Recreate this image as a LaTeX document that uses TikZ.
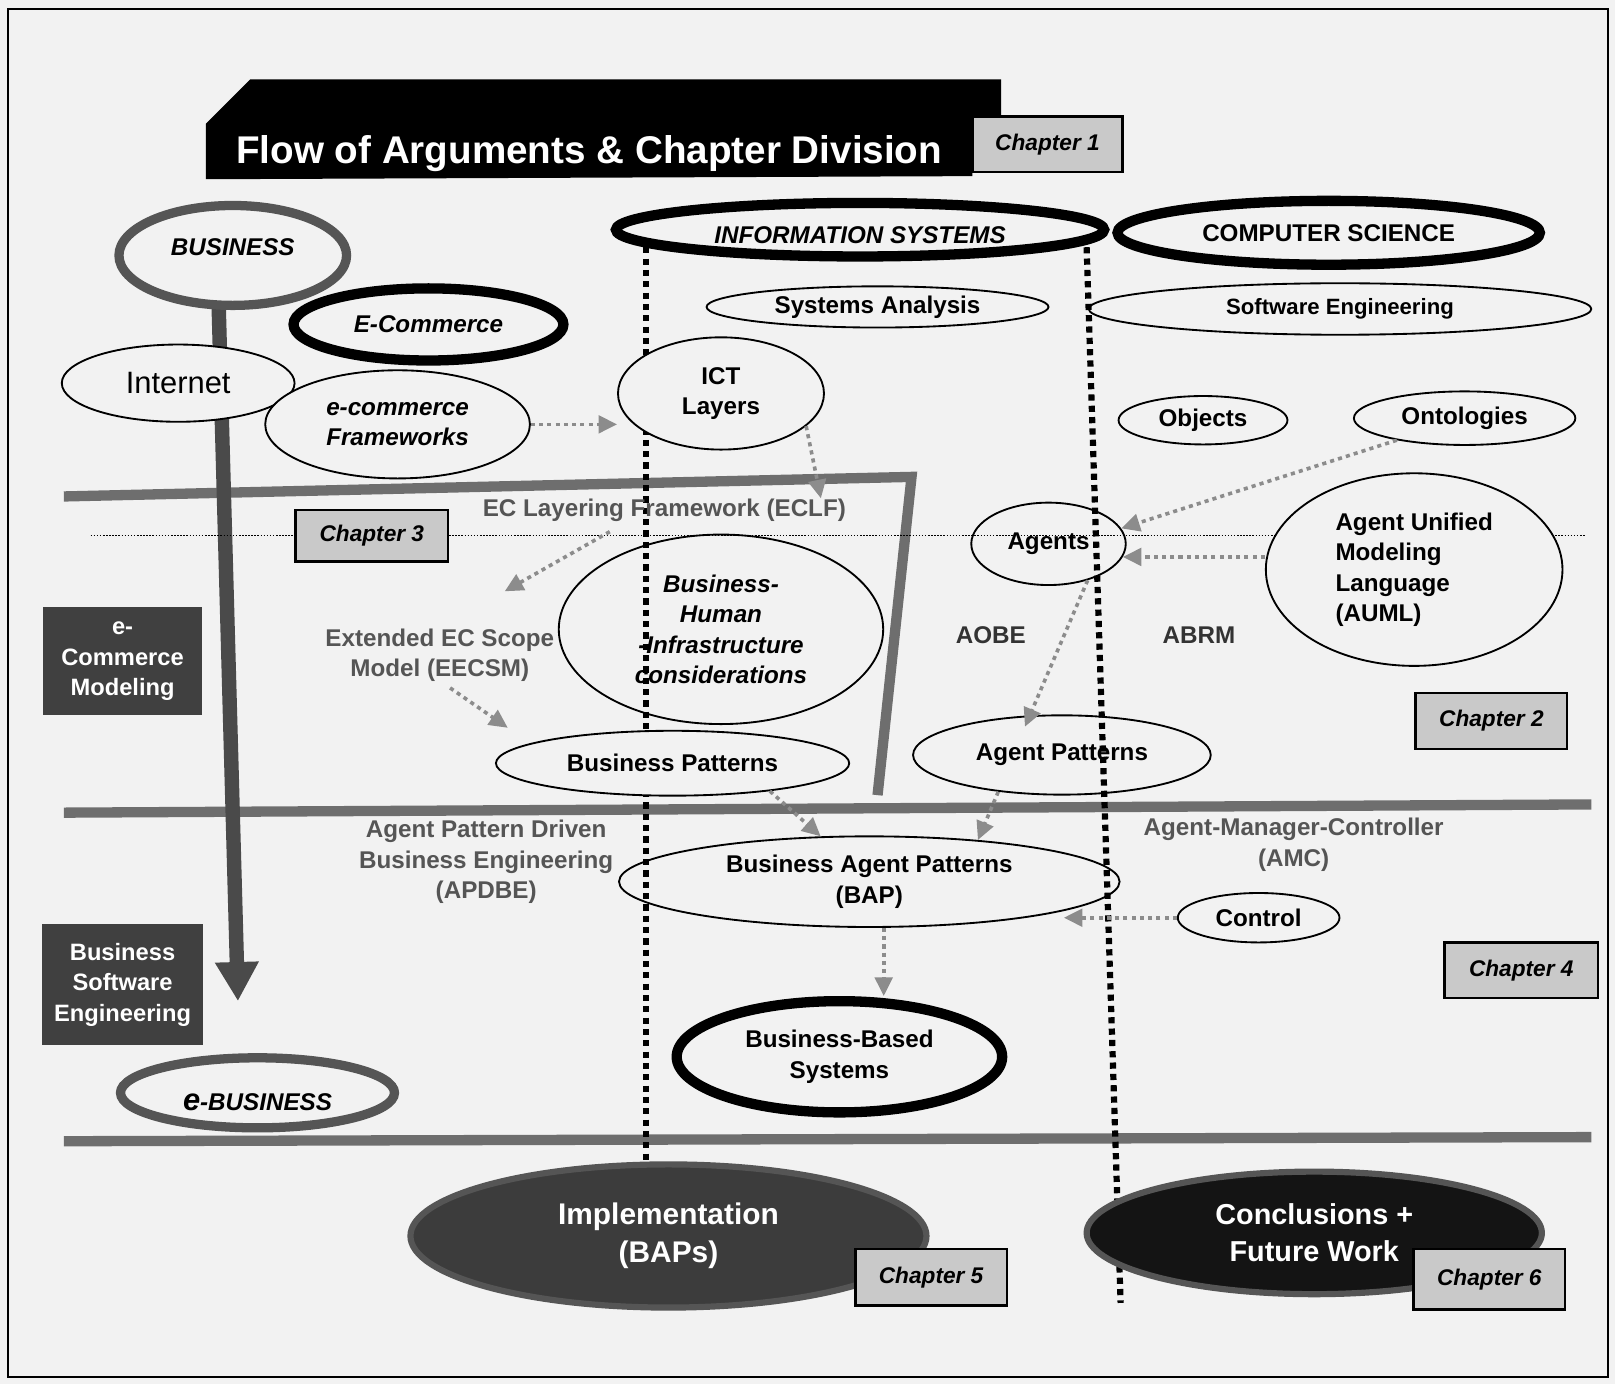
\documentclass[tikz,border=0pt]{standalone}
\usepackage{fontspec}
\setmainfont{Liberation Sans}
\usetikzlibrary{shapes.geometric,arrows.meta}
\definecolor{bgc}{HTML}{F2F2F2}
\definecolor{chapgray}{HTML}{C9C9C9}
\definecolor{boxgray}{HTML}{404040}
\definecolor{ringgray}{HTML}{555555}
\definecolor{bargray}{HTML}{6E6E6E}
\definecolor{conngray}{HTML}{8C8C8C}
\definecolor{labelgray}{HTML}{555555}
\definecolor{arrgray}{HTML}{4A4A4A}
\definecolor{implfill}{HTML}{3C3C3C}
\definecolor{conclfill}{HTML}{141414}
\newcommand\shiftv[2]{\raisebox{#1}[0pt][0pt]{#2}}
\begin{document}
\begin{tikzpicture}[x=1pt,y=-1pt,
 base/.style={inner sep=0pt, align=center, font=\bfseries\fontsize{23.5}{29.5}\selectfont},
 ell/.style 2 args={base, ellipse, draw=black, fill=bgc, line width=1.8pt, minimum width=#1pt, minimum height=#2pt},
 thickring/.style={line width=10pt},
 grayring/.style={line width=9pt, draw=ringgray},
 itf/.style={font=\bfseries\itshape\fontsize{23.5}{29.5}\selectfont},
 chapbox/.style 2 args={rectangle, draw=black, line width=2.5pt, fill=chapgray, minimum width=#1pt, minimum height=#2pt, inner sep=0pt, font=\bfseries\itshape\fontsize{22}{26}\selectfont},
 darkbox/.style 2 args={rectangle, fill=boxgray, text=white, minimum width=#1pt, minimum height=#2pt, inner sep=0pt, align=center, font=\bfseries\fontsize{23}{29.5}\selectfont},
 glabel/.style={base, text=labelgray},
 conn/.style={draw=conngray, line width=3.5pt, dash pattern=on 4pt off 4pt, -{Triangle[length=18pt,width=17pt,fill=conngray]}},
 vdots/.style={draw=black, line width=6pt, dash pattern=on 6pt off 5pt},
 hdots/.style={draw=black, line width=1.2pt, dash pattern=on 1.5pt off 1.5pt},
 bar/.style={draw=bargray, line width=10pt},
 bigarr/.style={draw=arrgray, line width=14pt, -{Triangle[length=38pt,width=40pt,fill=arrgray]}}
]
\useasboundingbox (0,0) rectangle (1568,1344);
\fill[bgc] (0,0) rectangle (1568,1344);
\draw[line width=1.6pt] (8,9) rectangle (1561,1337);

% title
\fill[black] (200,120) -- (243,77) -- (972,77) -- (972,118) -- (944,118) -- (944,171) -- (200,174) -- cycle;
\node[base, text=white, font=\bfseries\fontsize{37.5}{40}\selectfont] (title) at (572,149) {Flow of Arguments \& Chapter Division};
\node[chapbox={146}{54}] (ch1) at (1017,140) {Chapter 1};

% bars
\draw[bar] (62,482) -- (885,463) -- (852,772);
\draw[bar] (62,789) -- (1545,781);
\draw[bar] (62,1108) -- (1545,1104);

% big arrow
\coordinate (bigtip) at (231,972);
\coordinate (bigtop) at (211,250);
\draw[bigarr] (bigtop) -- (bigtip);

% ellipses (lower layer)
\node[ell={221}{97}, grayring, itf] (business) at (226,248) {\shiftv{0pt}{BUSINESS}};
\node[ell={262}{70}, thickring, itf] (ecommerce) at (416,315) {E-Commerce};
\node[ell={226}{75}, font=\fontsize{30}{34}\selectfont] (internet) at (173,372) {Internet};
\node[ell={257}{105}, itf] (ecfw) at (386,412) {e-commerce\\Frameworks};
\node[ell={474}{52}, thickring, itf] (infosys) at (835,223) {\shiftv{-13pt}{INFORMATION SYSTEMS}};
\node[ell={410}{62}, thickring] (compsci) at (1290,226) {COMPUTER SCIENCE};
\node[ell={332}{40}] (sysanal) at (852,298) {Systems Analysis};
\node[ell={488}{50}, font=\bfseries\fontsize{21.5}{26}\selectfont] (softeng) at (1301,300) {Software Engineering};
\node[ell={164}{47}] (objects) at (1168,408) {Objects};
\node[ell={215}{52}] (ontologies) at (1422,406) {Ontologies};
\node[ell={150}{80}] (agents) at (1018,528) {Agents};
\node[ell={315}{184}, itf] (bhi) at (700,611) {Business-\\Human\\-Infrastructure\\considerations};
\node[ell={289}{77}] (apat) at (1031,733) {Agent Patterns};
\node[ell={486}{88}] (bap) at (844,856) {Business Agent Patterns\\(BAP)};
\node[ell={157}{48}] (control) at (1222,891) {Control};
\node[ell={316}{108}, thickring] (bbs) at (815,1026) {Business-Based\\Systems};
\node[ell={266}{68}, grayring, itf] (ebus) at (250,1061) {\shiftv{-17pt}{{\fontsize{30}{30}\selectfont e}-BUSINESS}};
\node[ell={501}{139}, draw=ringgray, line width=6pt, fill=implfill, text=white, font=\bfseries\fontsize{29}{37}\selectfont] (impl) at (649,1200) {Implementation\\(BAPs)};

% dotted guide lines
\draw[hdots] (88,520) -- (1540,520);
\coordinate (v1top) at (627,240);
\coordinate (v1bot) at (627,1128);
\coordinate (v2top) at (1055,240);
\coordinate (v2bot) at (1088,1265);
\draw[vdots] (v1top) -- (v1bot);
\draw[vdots] (v2top) -- (v2bot);

% ellipses (upper layer)
\node[ell={200}{109}] (ict) at (700,382) {ICT\\Layers};
\node[ell={343}{63}] (bpat) at (653,741) {Business Patterns};
\node[ell={288}{187}, align=left] (auml) at (1373,553) {Agent Unified\\Modeling\\Language\\(AUML)};
\node[ell={442}{119}, draw=ringgray, line width=6pt, fill=conclfill, text=white, font=\bfseries\fontsize{28}{36}\selectfont] (concl) at (1276,1197) {Conclusions +\\Future Work};

% chapter boxes
\node[chapbox={148}{50}] (ch3) at (361,520) {Chapter 3};
\node[chapbox={147}{54}] (ch2) at (1448,700) {Chapter 2};
\node[chapbox={149}{54}] (ch4) at (1477,942) {Chapter 4};
\node[chapbox={147}{55}] (ch5) at (904,1240) {Chapter 5};
\node[chapbox={147}{59}] (ch6) at (1446,1242) {Chapter 6};

% dark side boxes
\node[darkbox={155}{105}] (ecm) at (119,642) {e-\\Commerce\\Modeling};
\node[darkbox={156}{118}] (bse) at (119,956) {Business\\Software\\Engineering};

% gray labels
\node[glabel] (eclf) at (645,495) {EC Layering Framework (ECLF)};
\node[glabel] (eecsm) at (427,636) {Extended EC Scope\\Model (EECSM)};
\node[glabel, text=black!80] (aobe) at (962,617) {AOBE};
\node[glabel, text=black!80] (abrm) at (1164,617) {ABRM};
\node[glabel] (apdbe) at (472,837) {Agent Pattern Driven\\Business Engineering\\(APDBE)};
\node[glabel] (amc) at (1256,820) {Agent-Manager-Controller\\(AMC)};

% connectors
\draw[conn] (ecfw.east) -- (ecfw.east -| ict.west);
\draw[conn] (ict.-21) -- ([xshift=152pt]eclf.north);
\draw[conn] ([xshift=-53pt,yshift=-10pt]eclf.south) -- ([xshift=63pt,yshift=36pt]eecsm.north);
\draw[conn] ([xshift=10pt,yshift=-6pt]eecsm.south) -- ([xshift=-160pt,yshift=2pt]bpat.north);
\draw[conn] (ontologies.198) -- (agents.12);
\draw[conn] (auml.west |- agents.-10) -- (agents.-10);
\draw[conn, shorten >=-12pt] (agents.-43) -- (apat.129.5);
\draw[conn] (bpat.-16) -- (bap.137);
\draw[conn] (apat.-150) -- (bap.21);
\draw[conn, shorten >=-55pt] (control.west) -- (control.west -| bap.east);
\draw[conn] ([xshift=14pt]bap.south) -- ([xshift=43pt]bbs.north);
\end{tikzpicture}
\end{document}
